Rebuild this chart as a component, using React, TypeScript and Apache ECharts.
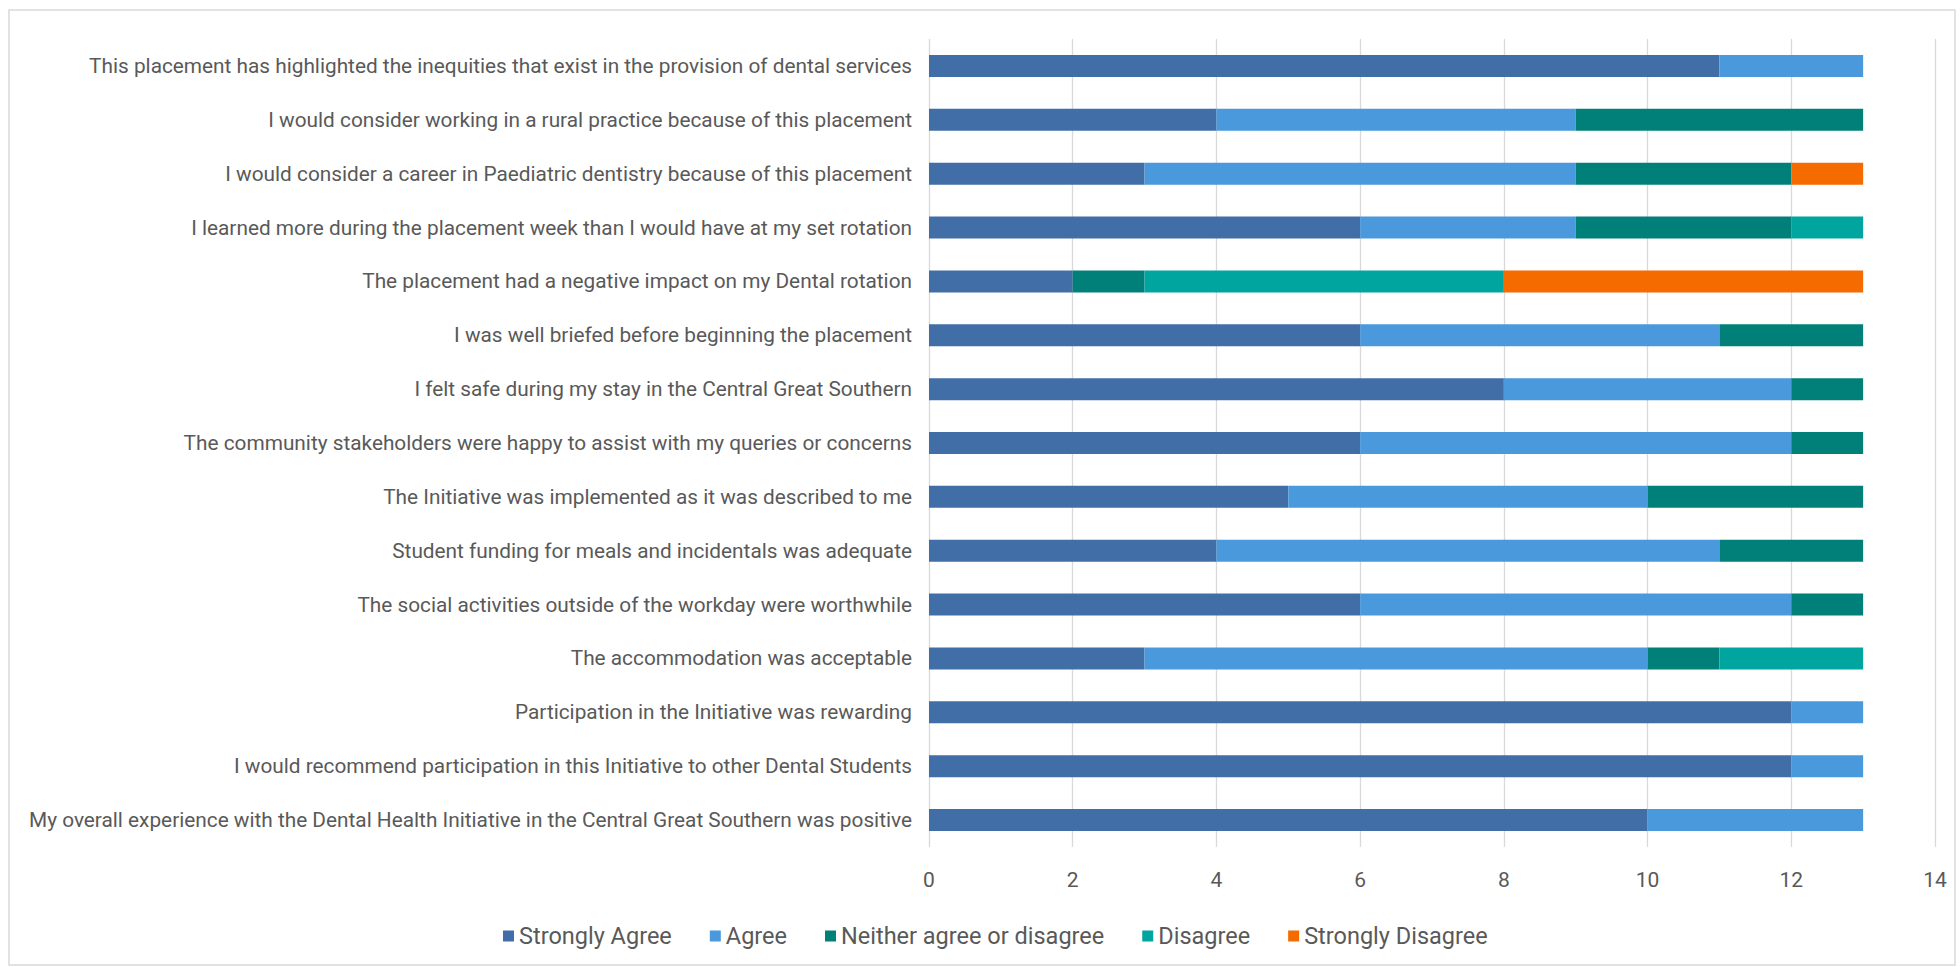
import React, { useEffect, useRef } from "react";
import * as echarts from "echarts";

const categories = [
  "This placement has highlighted the inequities that exist in the provision of dental services",
  "I would consider working in a rural practice because of this placement",
  "I would consider a career in Paediatric dentistry because of this placement",
  "I learned more during the placement week than I would have at my set rotation",
  "The placement had a negative impact on my Dental rotation",
  "I was well briefed before beginning the placement",
  "I felt safe during my stay in the Central Great Southern",
  "The community stakeholders were happy to assist with my queries or concerns",
  "The Initiative was implemented as it was described to me",
  "Student funding for meals and incidentals was adequate",
  "The social activities outside of the workday were worthwhile",
  "The accommodation was acceptable",
  "Participation in the Initiative was rewarding",
  "I would recommend participation in this Initiative to other Dental Students",
  "My overall experience with the Dental Health Initiative in the Central Great Southern was positive",
];

const stronglyAgree = [11, 4, 3, 6, 2, 6, 8, 6, 5, 4, 6, 3, 12, 12, 10];
const agree = [2, 5, 6, 3, 0, 5, 4, 6, 5, 7, 6, 7, 1, 1, 3];
const neither = [0, 4, 3, 3, 1, 2, 1, 1, 3, 2, 1, 1, 0, 0, 0];
const disagree = [0, 0, 0, 1, 5, 0, 0, 0, 0, 0, 0, 2, 0, 0, 0];
const stronglyDisagree = [0, 0, 1, 0, 5, 0, 0, 0, 0, 0, 0, 0, 0, 0, 0];

const seriesNames = ["Strongly Agree", "Agree", "Neither agree or disagree", "Disagree", "Strongly Disagree"];
const seriesData = [stronglyAgree, agree, neither, disagree, stronglyDisagree];
const colors = ["#426ea7", "#4a99dd", "#008079", "#00a59f", "#f66b00"];

export default function App() {
  const ref = useRef<HTMLDivElement>(null);
  useEffect(() => {
    document.body.style.margin = "0";
    const chart = echarts.init(ref.current!, null, { renderer: "svg" });
    const font = "Roboto";
    chart.setOption({
      animation: false,
      color: colors,
      textStyle: { fontFamily: font },
      graphic: [
        {
          type: "rect",
          shape: { x: 9, y: 10, width: 1946, height: 955 },
          style: { fill: "none", stroke: "#d9d9d9", lineWidth: 1.5 },
          silent: true,
        },
      ],
      grid: { left: 929, right: 25, top: 39, bottom: 120, containLabel: false },
      legend: {
        left: 498,
        top: 919,
        itemWidth: 11,
        itemHeight: 11,
        itemGap: 38,
        icon: "rect",
        textStyle: { color: "#595959", fontSize: 23.5, fontFamily: font },
        data: seriesNames,
      },
      xAxis: {
        type: "value",
        min: 0,
        max: 14,
        interval: 2,
        axisLine: { show: false },
        axisTick: { show: false },
        splitLine: { lineStyle: { color: "#d9d9d9", width: 1.3 } },
        axisLabel: { color: "#595959", fontSize: 21, margin: 22, fontFamily: font },
      },
      yAxis: {
        type: "category",
        inverse: true,
        data: categories,
        axisLine: { show: false },
        axisTick: { show: false },
        axisLabel: { color: "#595959", fontSize: 20.8, margin: 17, fontFamily: font },
      },
      series: seriesNames.map((name, i) => ({
        name,
        type: "bar",
        stack: "total",
        barWidth: 22,
        data: seriesData[i],
        itemStyle: { color: colors[i] },
      })),
    });
    return () => chart.dispose();
  }, []);
  return <div ref={ref} style={{ width: 1960, height: 967 }} />;
}
